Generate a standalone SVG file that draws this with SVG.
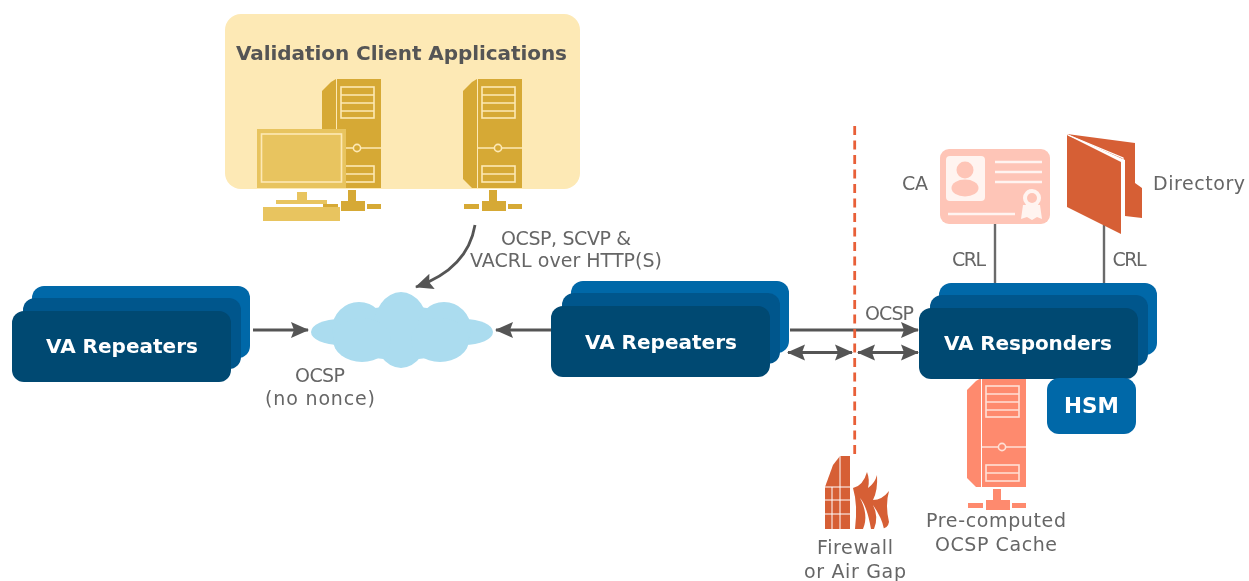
<svg xmlns="http://www.w3.org/2000/svg" xmlns:xlink="http://www.w3.org/1999/xlink" width="1249" height="581" viewBox="0 0 1249 581">
<style>
text{font-family:"DejaVu Sans","Liberation Sans",sans-serif;fill:#666;font-size:19px;text-anchor:middle}
.b{font-weight:bold;fill:#fff;font-size:20px}
.c{stroke:#555;stroke-width:2.8;fill:none}
.crl{stroke:#6b6b6b;stroke-width:2.4;fill:none}
.srv-y{fill:#d6a935;stroke:#fde9b5}
.srv-r{fill:#fe8a6e;stroke:#ffe0d6}
</style>
<defs>
<filter id="soft" x="-2%" y="-2%" width="104%" height="104%"><feGaussianBlur stdDeviation="0.6"/></filter>
<marker id="ah" viewBox="0 0 18 18" refX="17" refY="9" markerWidth="18" markerHeight="18" markerUnits="userSpaceOnUse" orient="auto-start-reverse"><path d="M0 1L18 9L0 17L3 9Z" fill="#555"/></marker>
<g id="server">
<path d="M0 12L9 3L14 0V109H9L0 100Z" stroke="none"/>
<rect x="15" width="44" height="109" stroke="none"/>
<g fill="none" stroke-width="1.6">
<rect x="19" y="8" width="33" height="31"/><path d="M19 16H52M19 24H52M19 32H52"/>
<path d="M15 69H31M39 69H59"/><circle cx="35" cy="69" r="3.6"/>
<rect x="19" y="87" width="33" height="16"/><path d="M19 95H52"/>
</g>
<rect x="26" y="111" width="8" height="11" stroke="none"/>
<rect x="19" y="122" width="24" height="10" stroke="none"/>
<rect x="1" y="125" width="15" height="5" stroke="none"/>
<rect x="45" y="125" width="14" height="5" stroke="none"/>
</g>
<g id="stack">
<rect x="32" y="286" width="218" height="72" rx="12" fill="#0067a8"/>
<rect x="23" y="298" width="218" height="71" rx="12" fill="#00568c"/>
<rect x="12" y="311" width="219" height="71" rx="12" fill="#004872"/>
</g>
</defs>
<rect width="1249" height="581" fill="#fff"/>
<g filter="url(#soft)">
<g id="clients">
<rect x="225" y="14" width="355" height="175" rx="16" fill="#fde9b5"/>
<text x="401.500" y="60" class="b" style="fill:#555" textLength="331">Validation Client Applications</text>
<use xlink:href="#server" href="#server" x="322" y="79" class="srv-y"/>
<use xlink:href="#server" href="#server" x="463" y="79" class="srv-y"/>
<rect x="257" y="129" width="89" height="59" fill="#e8c45e"/>
<rect x="261.500" y="134" width="80" height="48" fill="#e8c45e" stroke="#fde9b5" stroke-width="1.6"/>
<rect x="297" y="192" width="10" height="8" fill="#e8c45e"/>
<rect x="276" y="200" width="51" height="4" fill="#e8c45e"/>
<rect x="263" y="207" width="77" height="14" fill="#e8c45e"/>
</g>
<g id="cloud" fill="#abdcef">
<ellipse cx="340" cy="332" rx="29" ry="13"/><ellipse cx="464" cy="332" rx="29" ry="13"/>
<ellipse cx="401" cy="333" rx="68" ry="27"/>
<ellipse cx="359" cy="329" rx="27" ry="27"/><ellipse cx="401" cy="330" rx="28" ry="38"/><ellipse cx="444" cy="329" rx="27" ry="27"/>
<ellipse cx="362" cy="340" rx="29" ry="22"/><ellipse cx="440" cy="340" rx="29" ry="22"/>
</g>
<g id="connectors">
<path class="c" d="M253 330H308" marker-end="url(#ah)"/>
<path class="c" d="M551 330H496" marker-end="url(#ah)"/>
<path class="c" d="M790 330H918" marker-end="url(#ah)"/>
<path class="c" d="M788 352.500H852" marker-start="url(#ah)" marker-end="url(#ah)"/>
<path class="c" d="M858 352.500H918" marker-start="url(#ah)" marker-end="url(#ah)"/>
<path class="c" d="M475 225C470 255 450 275 416 287" marker-end="url(#ah)"/>
<path class="crl" d="M995 224V283M1104 225V283"/>
<path d="M854.700 126V454" fill="none" stroke="#e85f38" stroke-width="2.8" stroke-dasharray="9 5.500"/>
</g>
<g id="repeater-left"><use xlink:href="#stack" href="#stack"/><text x="122" y="353" class="b" textLength="152">VA Repeaters</text></g>
<g id="repeater-mid"><use xlink:href="#stack" href="#stack" x="539" y="-5"/><text x="661" y="348.500" class="b" textLength="152">VA Repeaters</text></g>
<g id="server-cache"><use xlink:href="#server" href="#server" x="967" y="378" class="srv-r"/></g>
<g id="responders"><use xlink:href="#stack" href="#stack" x="907" y="-3"/><text x="1028" y="349.500" class="b" textLength="168">VA Responders</text></g>
<g id="hsm"><rect x="1047" y="378" width="89" height="56" rx="12" fill="#0067a8"/><text x="1091.500" y="413" class="b" style="font-size:21.500px">HSM</text></g>
<g id="ca">
<rect x="940" y="149" width="110" height="75" rx="9" fill="#fec5b7"/>
<rect x="946" y="156" width="39" height="45" rx="4" fill="#fff4f0"/>
<circle cx="965" cy="170" r="8.500" fill="#fec5b7"/>
<ellipse cx="965" cy="188" rx="13.500" ry="8.500" fill="#fec5b7"/>
<path d="M995 162H1042M995 172H1042M995 182H1042M948 214H1015" stroke="#fff4f0" stroke-width="2.4" fill="none"/>
<path d="M1023 205L1021 219L1027 217L1032 220L1037 217L1042 219L1040 205Z" fill="#fff4f0"/>
<circle cx="1032" cy="198" r="9" fill="#fff4f0"/><circle cx="1032" cy="198" r="5" fill="#fec5b7"/>
</g>
<g id="directory" fill="#d65f36">
<path d="M1067 134L1135 143V183L1142 188V218L1125 216V160Z"/>
<path d="M1067 135L1121 162V234L1067 207Z"/>
<path d="M1068 135L1123 158V216" stroke="#fff" stroke-width="1.2" fill="none"/>
</g>
<g id="firewall" fill="#d65f36">
<path d="M825 529V487L833 465L840 456H850V529Z"/>
<path d="M825 487H850M825 500H850M825 514H850M840 456V529M832 487V529" stroke="#fff" stroke-width="1" fill="none"/>
<path d="M855 529Q858 505 853 488Q863 486 867 472Q870 480 868 488Q875 483 877 475Q878 490 873 500Q882 500 889 491Q885 505 889 522Q888 529 880 529Z"/>
<path d="M863 529Q869 515 860 498Q867 506 871 529M874 529Q879 517 873 505Q882 518 884 529" fill="#fff" stroke="none"/>
</g>
<g id="labels">
<text x="566" y="245" textLength="130">OCSP, SCVP &amp;</text>
<text x="566" y="267" textLength="192">VACRL over HTTP(S)</text>
<text x="320" y="382" textLength="50">OCSP</text>
<text x="320" y="405" textLength="110">(no nonce)</text>
<text x="889.500" y="320" textLength="49">OCSP</text>
<text x="969" y="266" textLength="34">CRL</text>
<text x="1129.500" y="266" textLength="34">CRL</text>
<text x="915" y="190" textLength="26">CA</text>
<text x="1199" y="190" textLength="92">Directory</text>
<text x="996" y="527" textLength="140">Pre-computed</text>
<text x="996" y="551" textLength="122">OCSP Cache</text>
<text x="855" y="554" textLength="76">Firewall</text>
<text x="855" y="578" textLength="102">or Air Gap</text>
</g>
</g>
</svg>
